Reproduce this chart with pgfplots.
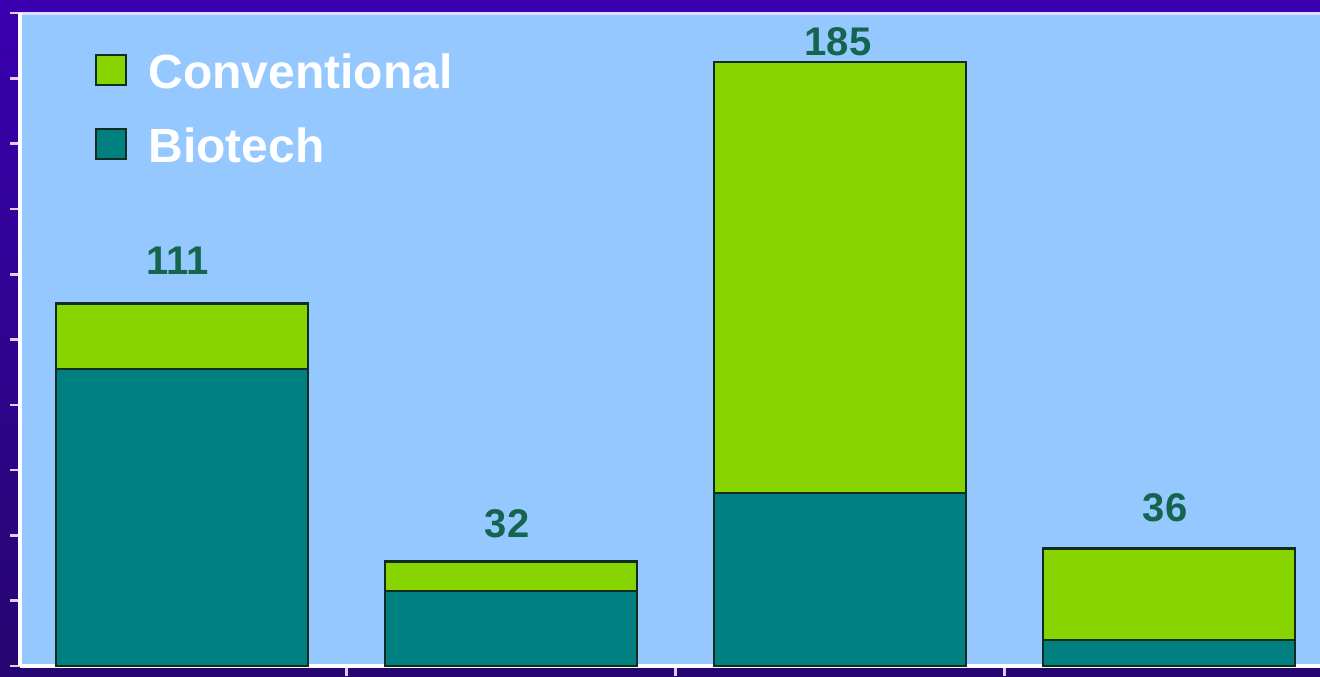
\documentclass[border=0pt]{standalone}
\usepackage{fontspec}
\setmainfont{Liberation Sans}
\usepackage{pgfplots}
\pgfplotsset{compat=1.18}
\definecolor{bgtop}{RGB}{58,0,175}
\definecolor{bgbot}{RGB}{38,6,112}
\definecolor{plotbg}{RGB}{148,200,255}
\definecolor{biocol}{RGB}{0,128,128}
\definecolor{convcol}{RGB}{136,212,0}
\definecolor{edgec}{RGB}{18,45,32}
\definecolor{labc}{RGB}{20,100,78}
\definecolor{tickc}{RGB}{235,200,245}
\definecolor{topline}{RGB}{225,220,255}
\begin{document}
\begin{tikzpicture}
\useasboundingbox (0,0) rectangle (660pt,338pt);
\shade[top color=bgtop, bottom color=bgbot] (0,0) rectangle (660pt,338pt);
\begin{axis}[
  at={(10pt,5pt)}, anchor=south west, scale only axis,
  width=650pt, height=326.5pt,
  xmin=-0.4924, xmax=3.459, ymin=0, ymax=200,
  ybar stacked, bar width=126pt,
  clip=false,
  axis background/.style={fill=plotbg},
  axis line style={draw=none},
  xtick={0.5,1.5,2.5}, xticklabels={},
  ytick={0,20,...,200}, yticklabels={},
  xtick pos=bottom, ytick pos=left, tick align=outside,
  major tick length=5pt,
  major tick style={draw=tickc, line width=1.3pt},
  reverse legend,
  legend image code/.code={\draw[#1, draw=edgec, line width=1pt] (0pt,-7.5pt) rectangle (15pt,7.5pt);},
  legend style={at={(rel axis cs:0,1)}, anchor=north west, xshift=37.5pt, yshift=-19.5pt,
    draw=none, fill=none, inner sep=0pt, row sep=19pt, column sep=10.5pt,
    font=\fontsize{24}{24}\selectfont\bfseries, text=white,
    nodes={inner sep=0pt, text height=18pt, text depth=0pt}},
  legend cell align=left,
]
\addplot[fill=biocol, draw=edgec, line width=1.3pt] coordinates {(0,91) (1,23) (2,53) (3,8)};
\addplot[fill=convcol, draw=edgec, line width=1.3pt] coordinates {(0,20) (1,9) (2,132) (3,28)};
\legend{Biotech, Conventional}
\draw[line width=2pt, white] (rel axis cs:0,0) -- (rel axis cs:1,0);
\draw[line width=2pt, white] (rel axis cs:0,0) -- (rel axis cs:0,1);
\draw[line width=1.5pt, topline] (rel axis cs:0,1) -- (rel axis cs:1,1);
\node[labc, font=\fontsize{20}{24}\selectfont\bfseries, anchor=center, xshift=-2pt, yshift=21.5pt] at (axis cs:0,111) {111};
\node[labc, font=\fontsize{20}{24}\selectfont\bfseries, anchor=center, xshift=-2pt, yshift=19pt] at (axis cs:1,32) {32};
\node[labc, font=\fontsize{20}{24}\selectfont\bfseries, anchor=center, xshift=-1pt, yshift=10pt] at (axis cs:2,185) {185};
\node[labc, font=\fontsize{20}{24}\selectfont\bfseries, anchor=center, xshift=-2pt, yshift=20.5pt] at (axis cs:3,36) {36};
\end{axis}
\end{tikzpicture}
\end{document}
